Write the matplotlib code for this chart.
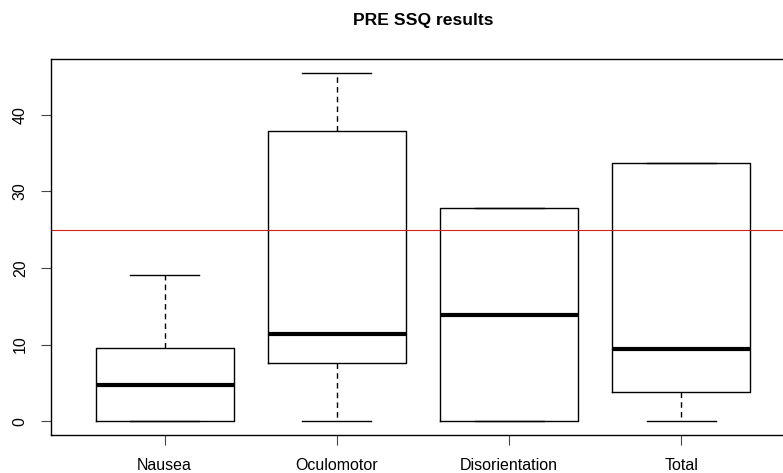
import matplotlib.pyplot as plt

# === DATA (SSQ scores) ===
categories = ["Nausea", "Oculomotor", "Disorientation", "Total"]
whisker_low = [0.0, 0.0, 0.0, 0.0]
q1 = [0.0, 7.58, 0.0, 3.74]
medians = [4.77, 11.37, 13.92, 9.35]
q3 = [9.54, 37.9, 27.84, 33.66]
whisker_high = [19.08, 45.48, 27.84, 33.66]
threshold = 25.0
y_ticks = [0, 10, 20, 30, 40]

plt.rcParams['font.family'] = ['Liberation Sans', 'DejaVu Sans']

fig = plt.figure(figsize=(7.83, 4.73), dpi=100)
# R-style plot region; right frame edge falls just outside the image
ax = fig.add_axes([51 / 783, 38 / 473, 744 / 783, 376 / 473])

stats = []
for i, name in enumerate(categories):
    stats.append(dict(label=name, whislo=whisker_low[i], q1=q1[i], med=medians[i],
                      q3=q3[i], whishi=whisker_high[i], fliers=[]))

positions = range(1, len(categories) + 1)
ax.bxp(stats, positions=positions, widths=0.8, capwidths=0.4,
       showfliers=False, patch_artist=False,
       boxprops=dict(color='black', linewidth=1),
       whiskerprops=dict(color='black', linewidth=1, linestyle=(0, (4, 3))),
       capprops=dict(color='black', linewidth=1),
       medianprops=dict(color='black', linewidth=3, solid_capstyle='butt'))

ax.axhline(threshold, color='#cc2222', linewidth=0.8)

ax.set_xlim(0.34, 4.66)
ax.set_ylim(-1.82, 47.3)
ax.set_yticks(y_ticks)
ax.set_yticklabels([str(v) for v in y_ticks], rotation=90, va='center')
ax.set_xticks(list(positions))
ax.set_xticklabels(categories)
ax.tick_params(axis='both', length=7.2, width=0.8, labelsize=11.5,
               colors='#444444', labelcolor='black')
ax.tick_params(axis='y', pad=9.5)
ax.tick_params(axis='x', pad=9)
for sp in ax.spines.values():
    sp.set_linewidth(1)

fig.text((51 + 795) / 2 / 783, 1 - 20 / 473, "PRE SSQ results",
         ha='center', va='center', fontsize=12.6, fontweight='bold')

fig.savefig("out.png", dpi=100)
